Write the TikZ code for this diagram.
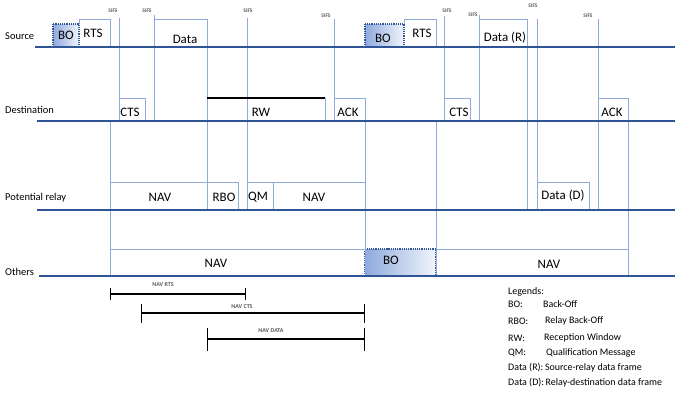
\documentclass[tikz,border=0pt]{standalone}
\usepackage{fontspec}
\setmainfont{Carlito}
\usepackage{tikz}
\usetikzlibrary{arrows.meta}
\usepackage{xcolor}
\definecolor{ColWhite}{RGB}{255,255,255}
\definecolor{ColAxis}{RGB}{47,85,151}
\definecolor{ColFrame}{RGB}{143,170,220}
\definecolor{ColSifs}{RGB}{90,90,90}
\tikzstyle{AxisLine}=[ColAxis,line width=1.6bp]
\tikzstyle{FrameLine}=[ColFrame,line width=0.8bp]
\tikzstyle{BackOff}=[draw=ColAxis,densely dotted,line width=1.2bp,left color=ColFrame,right color=ColFrame!12]
\tikzstyle{WindowLine}=[black,line width=2.6bp]
\tikzstyle{RowLabel}=[anchor=west,inner sep=0pt,font=\fontsize{10.5}{12}\selectfont]
\tikzstyle{FrameLabel}=[inner sep=0pt,font=\fontsize{13}{15}\selectfont]
\tikzstyle{SifsLabel}=[inner sep=0pt,text=ColSifs,font=\fontsize{5.5}{6}\selectfont\bfseries]
\tikzstyle{NavSpan}=[black,line width=1.1bp]
\tikzstyle{NavLabel}=[inner sep=0pt,text=ColSifs,font=\fontsize{6}{7}\selectfont\bfseries]
\tikzstyle{LegendLabel}=[anchor=west,inner sep=0pt,font=\fontsize{10}{11}\selectfont]

\begin{document}
\begin{tikzpicture}[x=1bp,y=-1bp]
        \useasboundingbox(0,0)rectangle(675,399);
        % back-off slots
        \draw[BackOff](53,24)rectangle(79,47);
        \draw[BackOff](365,24)rectangle(404,47);
        \draw[BackOff](365,249)rectangle(436,276);
        % source frames
        \draw[FrameLine](79,24)--(79,19)-|(110,47);
        \draw[FrameLine](154,19)-|(207,210);
        \draw[FrameLine](404,24)--(404,19)-|(436,47);
        \draw[FrameLine](479,19)-|(527,210);
        % SIFS marks
        \foreach \i/\x/\t/\b/\lx/\ly in {1/119/18/121/113/11,2/154/15/121/147/11,3/247/18/210/248/11,
            4/334/19/121/326/16,5/444/16/121/447/11,6/479/15/121/473/15,7/537/19/210/533/6,8/598/19/210/588/16}{
            \draw[FrameLine](\x,\t)--(\x,\b);
            \node[SifsLabel](sifs\i)at(\lx,\ly){SIFS};
        }
        % destination frames
        \draw[FrameLine](119,98)-|(145,121);
        \draw[FrameLine](325,98)--(325,121);
        \draw[FrameLine](334,98)-|(365,276);
        \draw[FrameLine](444,98)-|(470,121);
        \draw[FrameLine](598,98)-|(628,276);
        % NAV borders
        \draw[FrameLine](110,121)--(110,276);
        \draw[FrameLine](436,121)--(436,276);
        % relay frames
        \draw[FrameLine](110,182)--(207,182);
        \draw[FrameLine](207,182)-|(238,210);
        \draw[FrameLine](247,182)-|(273,210);
        \draw[FrameLine](273,182)--(365,182);
        \draw[FrameLine](537,182)-|(589,210);
        % others frames
        \draw[FrameLine](110,249)--(365,249);
        \draw[FrameLine](436,249)--(628,249);
        % time axes
        \draw[AxisLine](35,47)--(675,47);
        \draw[AxisLine](37,121)--(675,121);
        \draw[AxisLine](37,210)--(675,210);
        \draw[AxisLine](39,276)--(675,276);
        \draw[WindowLine](207,98)--(325,98);
        % row labels
        \node[RowLabel](src)at(5,36){Source};
        \node[RowLabel](dst)at(5,110){Destination};
        \node[RowLabel](rly)at(5,198){Potential relay};
        \node[RowLabel](oth)at(5,272){Others};
        % frame labels
        \node[FrameLabel](bo1)at(66,35){BO};
        \node[FrameLabel](rts1)at(93,33){RTS};
        \node[FrameLabel](data1)at(185,39){Data};
        \node[FrameLabel](cts1)at(130,112){CTS};
        \node[FrameLabel](rw)at(261,112){RW};
        \node[FrameLabel](ack1)at(348,112){ACK};
        \node[FrameLabel](bo2)at(383,38){BO};
        \node[FrameLabel](rts2)at(422,33){RTS};
        \node[FrameLabel](cts2)at(459,112){CTS};
        \node[FrameLabel](datar)at(505,38){Data (R)};
        \node[FrameLabel](ack2)at(612,112){ACK};
        \node[FrameLabel](nav1)at(160,197){NAV};
        \node[FrameLabel](rbo)at(224,197){RBO};
        \node[FrameLabel](qm)at(258,197){QM};
        \node[FrameLabel](nav2)at(314,197){NAV};
        \node[FrameLabel](datad)at(563,196){Data (D)};
        \node[FrameLabel](nav3)at(216,263){NAV};
        \node[FrameLabel](bo3)at(391,260){BO};
        \node[FrameLabel](nav4)at(549,264){NAV};
        % NAV durations
        \draw[NavSpan,{Bar[width=12bp]}-{Bar[width=12bp]}](110,294)--(246,294);
        \draw[NavSpan,{Bar[width=19bp]}-{Bar[width=19bp]}](141,313)--(365,313);
        \draw[NavSpan,{Bar[width=23bp]}-{Bar[width=23bp]}](207,339)--(365,339);
        \node[NavLabel](navrts)at(163,285){NAV RTS};
        \node[NavLabel](navcts)at(242,307){NAV CTS};
        \node[NavLabel](navdata)at(271,331){NAV DATA};
        % legend
        \node[LegendLabel](leg)at(508,292){Legends:};
        \node[LegendLabel](legbo)at(508,304){BO:};
        \node[LegendLabel]at(543,304){Back-Off};
        \node[LegendLabel](legrbo)at(508,321){RBO:};
        \node[LegendLabel]at(545,321){Relay Back-Off};
        \node[LegendLabel](legrw)at(508,338){RW:};
        \node[LegendLabel]at(544,338){Reception Window};
        \node[LegendLabel](legqm)at(508,353){QM:};
        \node[LegendLabel]at(546,353){Qualification Message};
        \node[LegendLabel](legdr)at(508,368){Data (R):\,Source-relay data frame};
        \node[LegendLabel](legdd)at(508,383){Data (D):\,Relay-destination data frame};
    \end{tikzpicture}
\end{document}
